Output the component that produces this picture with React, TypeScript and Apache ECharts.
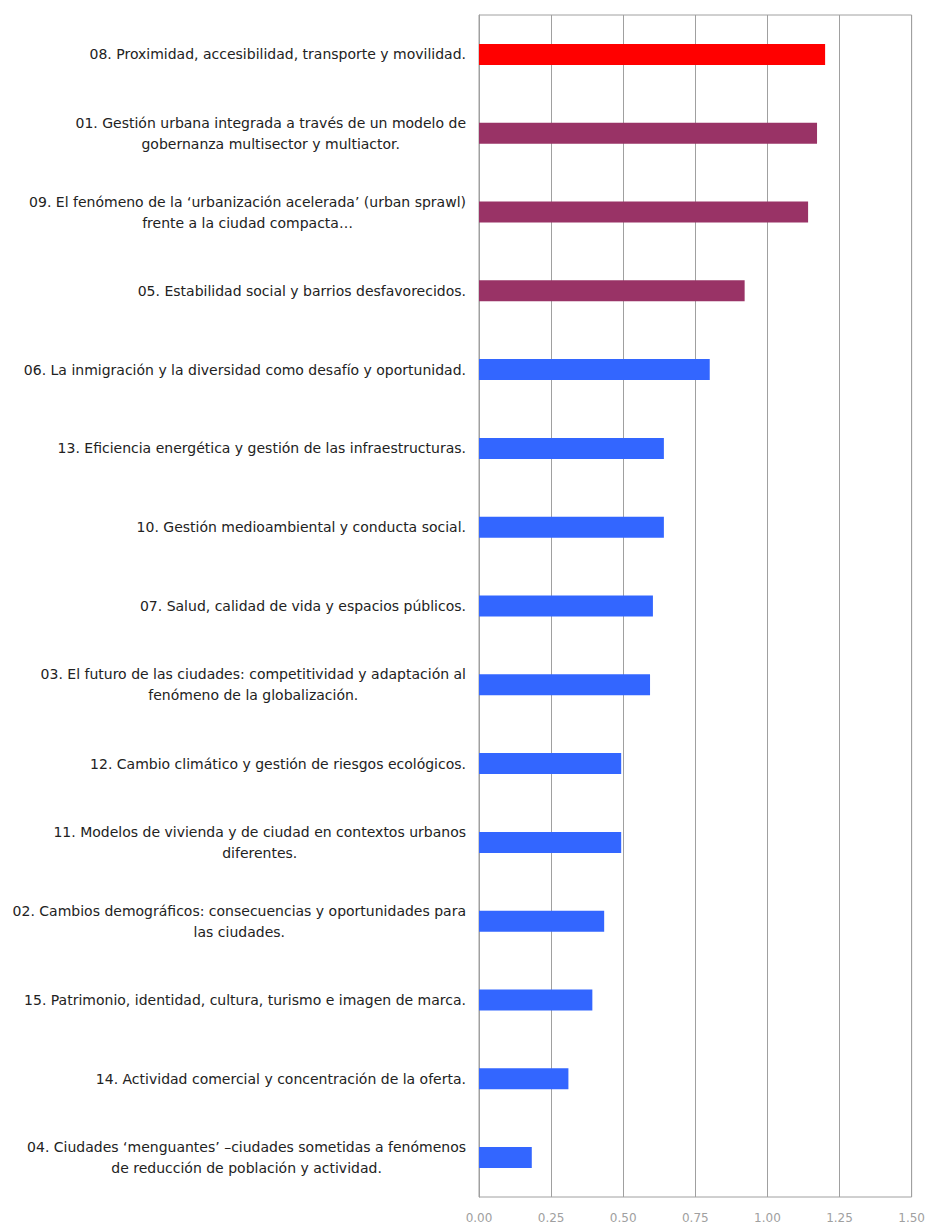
import React, { useEffect, useRef } from "react";
import * as echarts from "echarts";

const categories: string[] = [
  "08. Proximidad, accesibilidad, transporte y movilidad.",
  "01. Gestión urbana integrada a través de un modelo de\ngobernanza multisector y multiactor.",
  "09. El fenómeno de la ‘urbanización acelerada’ (urban sprawl)\nfrente a la ciudad compacta…",
  "05. Estabilidad social y barrios desfavorecidos.",
  "06. La inmigración y la diversidad como desafío y oportunidad.",
  "13. Eficiencia energética y gestión de las infraestructuras.",
  "10. Gestión medioambiental y conducta social.",
  "07. Salud, calidad de vida y espacios públicos.",
  "03. El futuro de las ciudades: competitividad y adaptación al\nfenómeno de la globalización.",
  "12. Cambio climático y gestión de riesgos ecológicos.",
  "11. Modelos de vivienda y de ciudad en contextos urbanos\ndiferentes.",
  "02. Cambios demográficos: consecuencias y oportunidades para\nlas ciudades.",
  "15. Patrimonio, identidad, cultura, turismo e imagen de marca.",
  "14. Actividad comercial y concentración de la oferta.",
  "04. Ciudades ‘menguantes’ –ciudades sometidas a fenómenos\nde reducción de población y actividad.",
];

const values: number[] = [
  1.2, 1.172, 1.141, 0.921, 0.8, 0.641, 0.641, 0.603, 0.593, 0.493, 0.493,
  0.434, 0.393, 0.31, 0.183,
];

// group per bar: 0 = top, 1 = second tier, 2 = rest
const groups: number[] = [0, 1, 1, 1, 2, 2, 2, 2, 2, 2, 2, 2, 2, 2, 2];
const groupColors: string[] = ["#FF0000", "#993366", "#3366FF"];

const xTicks: number[] = [0, 0.25, 0.5, 0.75, 1.0, 1.25, 1.5];

export default function App() {
  const ref = useRef<HTMLDivElement>(null);
  useEffect(() => {
    if (!ref.current) return;
    const chart = echarts.init(ref.current, undefined, { renderer: "svg" });
    const font = "DejaVu Sans";
    chart.setOption({
      animation: false,
      backgroundColor: "#ffffff",
      grid: {
        left: 479,
        right: 14,
        top: 15,
        bottom: 27,
        show: true,
        borderColor: "#a0a0a0",
        borderWidth: 1,
        backgroundColor: "transparent",
      },
      xAxis: {
        type: "value",
        min: xTicks[0],
        max: xTicks[xTicks.length - 1],
        interval: 0.25,
        axisLine: { show: false },
        axisTick: { show: false },
        splitLine: { show: true, lineStyle: { color: "#a0a0a0", width: 1 } },
        axisLabel: {
          color: "#a0a0a0",
          fontFamily: font,
          fontSize: 12,
          margin: 15,
          formatter: (v: number) => v.toFixed(2),
        },
      },
      yAxis: {
        type: "category",
        inverse: true,
        data: categories,
        axisLine: { show: true, lineStyle: { color: "#a0a0a0" } },
        axisTick: { show: false },
        axisLabel: {
          margin: 13,
          align: "right",
          color: "#222222",
          fontFamily: font,
          fontSize: 14,
          lineHeight: 21,
          formatter: (v: string) =>
            v
              .split("\n")
              .map((l) => "{c|" + l + "}")
              .join("\n"),
          rich: {
            c: {
              align: "center",
              color: "#222222",
              fontFamily: font,
              fontSize: 14,
              lineHeight: 21,
            },
          },
        },
      },
      series: [
        {
          type: "bar",
          barWidth: 21,
          data: values.map((v, i) => ({
            value: v,
            itemStyle: { color: groupColors[groups[i]] },
          })),
        },
      ],
    });
    return () => chart.dispose();
  }, []);
  return (
    <div
      ref={ref}
      style={{ position: "fixed", left: 0, top: 0, width: 928, height: 1224 }}
    />
  );
}
